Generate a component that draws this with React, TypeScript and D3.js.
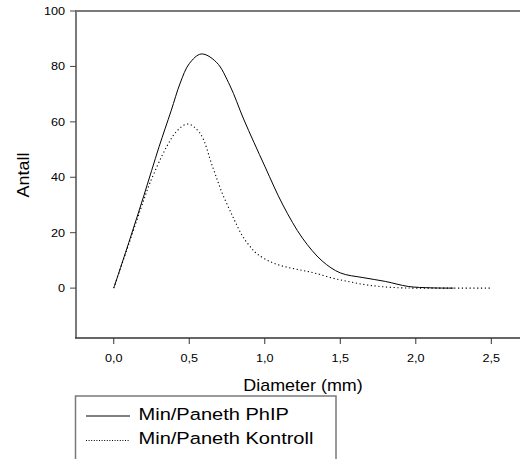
import React from "react";
import * as d3 from "d3";

const phipX = [0, 0.1, 0.2, 0.3, 0.38, 0.44, 0.5, 0.58, 0.68, 0.77, 0.86, 1.0, 1.12, 1.25, 1.38, 1.5, 1.65, 1.8, 1.95, 2.1, 2.25];
const phipY = [0, 16.5, 33.5, 51, 64, 74, 81, 84.5, 81.5, 73, 61, 44, 30, 18, 9.8, 5.5, 3.8, 2.4, 0.6, 0.1, 0];

const kontrollX = [0, 0.1, 0.2, 0.24, 0.35, 0.42, 0.49, 0.57, 0.655, 0.72, 0.79, 0.85, 0.9, 0.95, 1.05, 1.15, 1.25, 1.34, 1.45, 1.56, 1.67, 1.78, 1.9, 2.0, 2.25, 2.49];
const kontrollY = [0, 16, 32, 38, 51, 56.8, 59.2, 56, 43.7, 34, 25.6, 19, 15.2, 12.3, 9.2, 7.5, 6.4, 5.3, 3.6, 2.3, 1.2, 0.5, 0.1, 0, 0, 0];

const xTicks = [0, 0.5, 1.0, 1.5, 2.0, 2.5];
const xTickLabels = ["0,0", "0,5", "1,0", "1,5", "2,0", "2,5"];
const yTicks = [0, 20, 40, 60, 80, 100];

const seriesNames = ["Min/Paneth PhIP", "Min/Paneth Kontroll"];
const xTitle = "Diameter (mm)";
const yTitle = "Antall";

const W = 520;
const H = 459;
const FONT = "Arial, 'Liberation Sans', sans-serif";

function SText({ x, y, text, size, sx = 1, anchor = "start", rotate = 0 }: any) {
  return (
    <g transform={`translate(${x},${y}) rotate(${rotate}) scale(${sx},1)`}>
      <text x={0} y={0} fontSize={size} fontFamily={FONT} textAnchor={anchor} fill="#000">
        {text}
      </text>
    </g>
  );
}

export default function App() {
  const x = d3.scaleLinear().domain([-0.25, 2.69]).range([76, 520]);
  const y = d3.scaleLinear().domain([-18, 100]).range([338, 11]);

  const line = d3
    .line<[number, number]>()
    .x((d) => x(d[0]))
    .y((d) => y(d[1]))
    .curve(d3.curveCatmullRom.alpha(0.5));

  const phip: [number, number][] = phipX.map((v, i) => [v, phipY[i]]);
  const kontroll: [number, number][] = kontrollX.map((v, i) => [v, kontrollY[i]]);

  const x0 = x.range()[0];
  const x1 = x.range()[1];
  const yTop = y.range()[1];
  const yBot = y.range()[0];

  return (
    <svg width={W} height={H} style={{ position: "absolute", left: 0, top: 0, background: "#fff" }}>
      <rect x={0} y={0} width={W} height={H} fill="#fff" />
      {/* frame */}
      <line x1={x0} x2={x1} y1={yTop} y2={yTop} stroke="#7a7a7a" strokeWidth={2} />
      <line x1={x0} x2={x0} y1={yTop - 1} y2={yBot} stroke="#7a7a7a" strokeWidth={2} />
      <line x1={x0 - 1} x2={x1} y1={yBot} y2={yBot} stroke="#333" strokeWidth={1.5} />

      {/* y ticks */}
      {yTicks.map((t) => (
        <g key={"y" + t}>
          <line x1={x0 - 6} x2={x0} y1={y(t)} y2={y(t)} stroke="#444" strokeWidth={1} />
          <SText x={65} y={y(t) + 4} text={String(t)} size={11} sx={1.15} anchor="end" />
        </g>
      ))}

      {/* x ticks */}
      {xTicks.map((t, i) => (
        <g key={"x" + t}>
          <line x1={x(t)} x2={x(t)} y1={yBot} y2={yBot + 6} stroke="#333" strokeWidth={1} />
          <SText x={x(t)} y={361.5} text={xTickLabels[i]} size={11.5} sx={1.1} anchor="middle" />
        </g>
      ))}

      {/* titles */}
      <SText x={303} y={391} text={xTitle} size={16} sx={1.12} anchor="middle" />
      <SText x={28.5} y={175} text={yTitle} size={16} sx={1.12} anchor="middle" rotate={-90} />

      {/* curves */}
      <path d={line(phip) || ""} fill="none" stroke="#000" strokeWidth={1} />
      <path d={line(kontroll) || ""} fill="none" stroke="#000" strokeWidth={1.1} strokeDasharray="1.2,2.6" />

      {/* legend */}
      <rect x={75.5} y={396} width={260.5} height={80} fill="none" stroke="#7a7a7a" strokeWidth={1.5} />
      <line x1={86} x2={130} y1={416} y2={416} stroke="#000" strokeWidth={1} />
      <SText x={138.5} y={419.5} text={seriesNames[0]} size={17} sx={1.18} />
      <line x1={86} x2={130} y1={440.5} y2={440.5} stroke="#000" strokeWidth={1} strokeDasharray="1,1.6" />
      <SText x={138.5} y={444} text={seriesNames[1]} size={17} sx={1.18} />
    </svg>
  );
}
